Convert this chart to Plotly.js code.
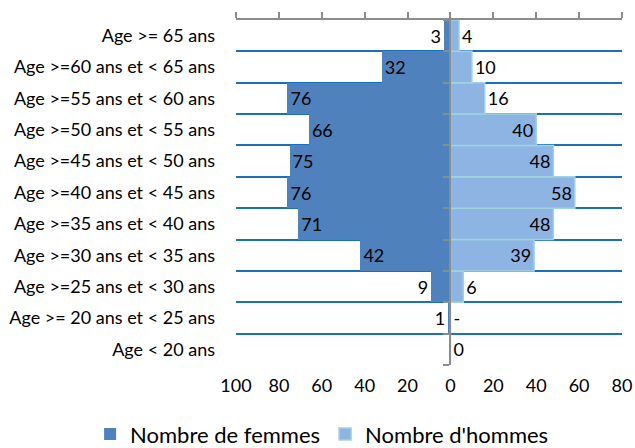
<!DOCTYPE html>
<html><head><meta charset="utf-8">
<script src="https://cdn.plot.ly/plotly-3.0.1.min.js"></script>
<style>html,body{margin:0;padding:0;background:#fff}#chart{width:635px;height:448px}</style>
</head><body><div id="chart"></div>
<script>
const categories = ["Age < 20 ans","Age >= 20 ans et < 25 ans","Age >=25 ans et < 30 ans","Age >=30 ans et < 35 ans","Age >=35 ans et < 40 ans","Age >=40 ans et < 45 ans","Age >=45 ans et < 50 ans","Age >=50 ans et < 55 ans","Age >=55 ans et < 60 ans","Age >=60 ans et < 65 ans","Age >= 65 ans"];
const femmes = [0,1,9,42,71,76,75,66,76,32,3];
const hommes = [0,0,6,39,48,58,48,40,16,10,4];
const femmesLabels = ["","1","9","42","71","76","75","66","76","32","3"];
const hommesLabels = ["0","-","6","39","48","58","48","40","16","10","4"];
const tickValues = [-100,-80,-60,-40,-20,0,20,40,60,80];
const tickLabels = ["100","80","60","40","20","0","20","40","60","80"];
const seriesNames = ["Nombre de femmes","Nombre d'hommes"];

const xRange = [-100, 80];
const FONT = "Lato, 'Open Sans', sans-serif";
const zeroPos = (0 - xRange[0]) / (xRange[1] - xRange[0]);
const txt = {family: FONT, size: 18, color: '#000'};

const traces = [
  {
    type: 'bar', orientation: 'h', name: seriesNames[0],
    y: categories, x: femmes.map(v => -v),
    text: femmesLabels, texttemplate: '%{text}', textangle: 0,
    textposition: femmes.map(v => v >= 20 ? 'inside' : 'outside'),
    insidetextanchor: 'end', cliponaxis: false, constraintext: 'none',
    textfont: txt, insidetextfont: txt, outsidetextfont: txt,
    marker: {color: '#4f81bd', line: {width: 0}},
    xaxis: 'x', yaxis: 'y', hoverinfo: 'skip'
  },
  {
    type: 'bar', orientation: 'h', name: seriesNames[1],
    y: categories, x: hommes,
    text: hommesLabels, texttemplate: '%{text}', textangle: 0,
    textposition: hommes.map(v => v >= 20 ? 'inside' : 'outside'),
    insidetextanchor: 'end', cliponaxis: false, constraintext: 'none',
    textfont: txt, insidetextfont: txt, outsidetextfont: txt,
    marker: {color: '#8db4e2', line: {width: 1.5, color: '#9fd3e1'}},
    xaxis: 'x2', yaxis: 'y2', hoverinfo: 'skip'
  }
];

const layout = {
  width: 635, height: 448,
  margin: {l: 236, r: 13, t: 20, b: 83, autoexpand: false},
  paper_bgcolor: '#fff', plot_bgcolor: '#fff',
  font: txt,
  bargap: 0, barmode: 'overlay',
  showlegend: true,
  legend: {orientation: 'h', x: -0.378, xanchor: 'left', y: -0.14, yanchor: 'top',
           font: {family: FONT, size: 22, color: '#000'}, traceorder: 'normal'},
  xaxis: {
    range: xRange, tickvals: tickValues, ticktext: tickLabels,
    showgrid: false, zeroline: false, showline: false,
    ticks: '', ticklabelstandoff: 8,
    tickfont: txt, fixedrange: true
  },
  xaxis2: {
    range: xRange, tickvals: tickValues, overlaying: 'x', side: 'top', anchor: 'y',
    showgrid: false, zeroline: false, showline: true, linecolor: '#8c8c8c', linewidth: 2,
    ticks: 'outside', ticklen: 6, tickwidth: 2, tickcolor: '#8c8c8c', showticklabels: false
  },
  yaxis: {
    type: 'category', categoryarray: categories, categoryorder: 'array',
    range: [-0.5, categories.length - 0.5],
    tickson: 'boundaries', showgrid: true, gridcolor: '#1a70c0', gridwidth: 2,
    showline: false, zeroline: false,
    ticks: '', ticklabelstandoff: 20,
    tickfont: txt
  },
  yaxis2: {
    type: 'category', categoryarray: categories, categoryorder: 'array',
    range: [-0.5, categories.length - 0.5],
    overlaying: 'y', anchor: 'free', position: zeroPos, side: 'left',
    tickson: 'boundaries', showgrid: false, showline: true, linecolor: '#8c8c8c', linewidth: 2,
    zeroline: false, ticks: 'outside', ticklen: 6, tickwidth: 2, tickcolor: '#8c8c8c',
    showticklabels: false
  }
};

Plotly.newPlot('chart', traces, layout, {displayModeBar: false, staticPlot: true});
</script>
</body></html>
